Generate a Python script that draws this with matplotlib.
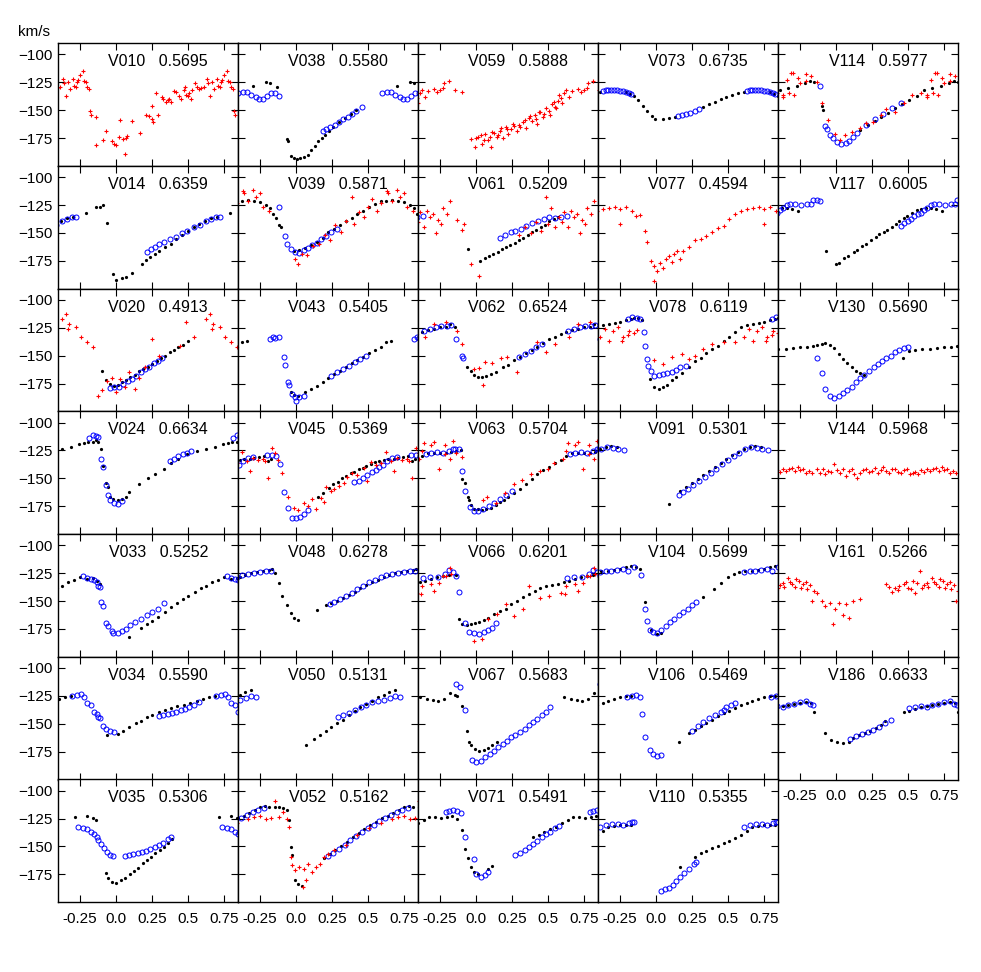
import numpy as np
import matplotlib.pyplot as plt

plt.rcParams["font.family"] = ["Liberation Sans", "DejaVu Sans"]

# phase (0..1) / velocity pairs; plotted at phase and phase-1
V010_red = [0.00,-181, 0.02,-174, 0.03,-159, 0.05,-176, 0.06,-189, 0.07,-175, 0.08,-173, 0.11,-160,
            0.17,-170, 0.21,-154, 0.23,-155, 0.25,-158, 0.25,-146, 0.26,-161, 0.28,-135, 0.29,-154,
            0.32,-138, 0.33,-140, 0.35,-143, 0.36,-141, 0.37,-140, 0.38,-143, 0.40,-133, 0.42,-134,
            0.44,-137, 0.45,-140, 0.47,-132, 0.48,-129, 0.49,-136, 0.50,-137, 0.51,-135, 0.52,-140,
            0.53,-132, 0.55,-126, 0.56,-129, 0.58,-131, 0.59,-130, 0.61,-129, 0.63,-122, 0.64,-126,
            0.65,-137, 0.67,-125, 0.68,-131, 0.70,-122, 0.71,-128, 0.72,-129, 0.73,-125, 0.74,-123,
            0.75,-118, 0.77,-115, 0.78,-124, 0.79,-125, 0.80,-129, 0.81,-131, 0.82,-151, 0.83,-154,
            0.86,-156, 0.865,-181, 0.91,-177, 0.93,-169, 0.97,-178, 0.99,-180]

V038_black = [0.70,-128, 0.79,-125, 0.82,-126, 0.87,-129, 0.94,-176, 0.945,-178, 0.965,-191, 0.985,-193,
              0.005,-194, 0.025,-193, 0.055,-192, 0.085,-190, 0.105,-186, 0.13,-182, 0.155,-178, 0.18,-175,
              0.20,-172, 0.23,-169, 0.26,-165, 0.30,-161, 0.34,-157, 0.38,-153, 0.42,-150]
V038_blue = [0.19,-169, 0.21,-167, 0.24,-165, 0.27,-163, 0.30,-161, 0.33,-158, 0.36,-156, 0.39,-153,
             0.42,-151, 0.46,-147, 0.60,-134.5, 0.63,-133.5, 0.66,-134, 0.69,-136, 0.72,-138, 0.745,-140,
             0.77,-139.5, 0.80,-137.5, 0.83,-135, 0.855,-134.3, 0.883,-137.3]

V059_red = [0.855,-132, 0.903,-133.4, 0.964,-176, 0.992,-183, 0.016,-174, 0.044,-180, 0.065,-171, 0.085,-177,
            0.105,-183, 0.125,-170, 0.145,-174, 0.165,-169, 0.185,-175, 0.206,-165, 0.226,-171, 0.246,-167,
            0.266,-164, 0.286,-169, 0.306,-165, 0.327,-161, 0.347,-166, 0.367,-157, 0.387,-160, 0.407,-154,
            0.427,-162, 0.448,-152, 0.468,-156, 0.488,-148, 0.508,-151, 0.528,-144, 0.548,-147, 0.569,-142,
            0.589,-139, 0.609,-135, 0.629,-132, 0.669,-132.5, 0.71,-131, 0.75,-132, 0.78,-126, 0.81,-123.5,
            0.004,-175.3, 0.032,-172.3, 0.056,-176.8, 0.097,-173.8, 0.113,-169.3, 0.153,-172.3, 0.177,-166.3,
            0.218,-167.2, 0.258,-161.9, 0.298,-163.4, 0.339,-158.9, 0.379,-155.3, 0.419,-158.3, 0.435,-151.4,
            0.476,-153.5, 0.516,-154.4, 0.54,-142.4, 0.556,-148.4, 0.58,-136.4, 0.597,-143.3, 0.649,-137.9,
            0.73,-133.4, 0.77,-130.4]

V073_black = [0.79,-134, 0.82,-135.5, 0.85,-137, 0.875,-141, 0.91,-146, 0.94,-151, 0.97,-155, 0.995,-157.5,
              0.05,-158.3, 0.09,-157.4, 0.13,-156.5, 0.33,-147, 0.37,-144.5, 0.41,-142.4, 0.45,-140.3,
              0.49,-138.5, 0.53,-136.4, 0.57,-135, 0.61,-133.4]
V073_blue = [0.15,-155.3, 0.18,-154.4, 0.21,-153.5, 0.24,-152.3, 0.27,-150.5, 0.30,-149.3, 0.63,-132.8,
             0.65,-132.3, 0.67,-132, 0.69,-131.8, 0.71,-132, 0.73,-132.2, 0.75,-132.5, 0.77,-133, 0.79,-133.4,
             0.81,-134.2, 0.83,-135.5]

V114_black = [0.17,-167.8, 0.22,-163.4, 0.27,-159.5, 0.31,-156, 0.36,-152.3, 0.41,-148.4, 0.46,-144.5,
              0.51,-141, 0.56,-137.3, 0.61,-132, 0.67,-130, 0.73,-128.5, 0.786,-125.3, 0.819,-123.5,
              0.847,-124.4, 0.90,-146.3, 0.907,-150]
V114_blue = [0.887,-128.3, 0.927,-164.3, 0.94,-167.2, 0.956,-172.3, 0.98,-175.3, 0.008,-178.3, 0.036,-180.4,
             0.069,-179.8, 0.089,-177.4, 0.117,-173.8, 0.149,-170.2, 0.21,-163.4, 0.27,-158.3, 0.33,-153.5,
             0.39,-148.4, 0.45,-143.9]
V114_red = [0.633,-136, 0.657,-122.9, 0.673,-134.5, 0.70,-116.3, 0.74,-121.4, 0.79,-117.5, 0.83,-119.3,
            0.867,-124.4, 0.90,-143.9, 0.948,-158.9, 0.996,-171.4, 0.028,-176.8, 0.06,-172.3, 0.109,-169.3,
            0.165,-166.3, 0.206,-161.3, 0.26,-160.4, 0.31,-154.4, 0.35,-149.3, 0.41,-151.4, 0.47,-143.3,
            0.53,-136.4, 0.59,-134.3, 0.63,-137.9, 0.69,-116.3, 0.71,-136.4, 0.75,-125.9, 0.79,-123.5]

V014_black = [0.79,-131.7, 0.86,-126.6, 0.89,-126.6, 0.907,-125.4, 0.94,-140.7, 0.98,-186.5, 0.00,-192.5,
              0.04,-190.7, 0.07,-189.5, 0.11,-185.6, 0.18,-177.5, 0.21,-174.5, 0.24,-171.5, 0.27,-168.5,
              0.30,-166, 0.34,-163, 0.38,-159.5, 0.42,-155.6, 0.46,-151.7, 0.50,-148, 0.54,-145, 0.58,-142,
              0.62,-139, 0.66,-136.7, 0.70,-135.5]
V014_blue = [0.214,-166.8, 0.242,-164.7, 0.27,-162.6, 0.302,-160.2, 0.335,-157.8, 0.375,-155.6, 0.415,-153.5,
             0.456,-150.5, 0.496,-148.1, 0.544,-145.1, 0.585,-142.7, 0.625,-139.7, 0.657,-137.6, 0.698,-136.1,
             0.726,-136.1]

V039_black = [0.843,-133.2, 0.863,-136.7, 0.883,-142.7, 0.895,-144.5, 0.984,-166.2, 0.024,-165.6, 0.065,-163.1,
              0.105,-160.8, 0.145,-157.8, 0.185,-154.2, 0.226,-149.6, 0.266,-146.6, 0.306,-142.7, 0.347,-139.1,
              0.387,-136.2, 0.427,-133.2, 0.468,-130.2, 0.508,-126.6, 0.548,-124.2, 0.589,-121.8, 0.629,-121.2,
              0.669,-120.6, 0.71,-121.2, 0.75,-122.7, 0.79,-124.8, 0.82,-128]
V039_blue = [0.883,-126.6, 0.923,-152.7, 0.935,-159.5, 0.964,-164.7, 0.992,-166.8, 0.024,-167.7, 0.056,-165.6,
             0.085,-163.1, 0.113,-160.8, 0.145,-158.7, 0.177,-155.6, 0.206,-152.7, 0.246,-149.6, 0.286,-146.6]
V039_red = [0.64,-113.8, 0.70,-111.6, 0.75,-114.6, 0.992,-173.6, 0.016,-178, 0.044,-169, 0.08,-170, 0.12,-162,
            0.16,-160, 0.2,-152, 0.24,-156, 0.27,-143, 0.31,-149, 0.35,-139, 0.387,-118.2, 0.40,-142, 0.44,-131,
            0.47,-136, 0.50,-127, 0.53,-119.7, 0.56,-130, 0.589,-123.5, 0.63,-112.2, 0.67,-121.7, 0.72,-118,
            0.77,-127, 0.81,-130]

V061_black = [0.944,-164.7, 0.03,-175, 0.06,-172.7, 0.09,-170.6, 0.12,-168.5, 0.15,-166.7, 0.18,-164.7,
              0.21,-163, 0.24,-160.8, 0.27,-158.7, 0.30,-156.6, 0.33,-154.2, 0.36,-151.7, 0.39,-149.6,
              0.42,-147.5, 0.45,-145, 0.48,-142.7, 0.51,-139.7, 0.54,-137.6, 0.57,-135.5]
V061_blue = [0.165,-154.2, 0.205,-151.7, 0.245,-149.6, 0.27,-148.1, 0.31,-146.6, 0.35,-143.6, 0.39,-141.5,
             0.43,-139.1, 0.47,-137.6, 0.51,-136.1, 0.55,-136.7, 0.59,-135.5, 0.63,-134.6]
V061_red = [0.613,-131.6, 0.66,-130.7, 0.70,-132.8, 0.72,-150.2, 0.734,-138.2, 0.774,-127.7, 0.823,-121.7,
            0.87,-138, 0.90,-147, 0.92,-142, 0.964,-177.5, 0.024,-188.8, 0.30,-152, 0.34,-145, 0.38,-150,
            0.42,-140, 0.45,-148, 0.488,-117.7, 0.50,-142, 0.52,-128, 0.55,-145, 0.58,-136, 0.60,-140,
            0.64,-145, 0.68,-136, 0.76,-142, 0.80,-133]

V077_red = [0.859,-134.6, 0.887,-133.7, 0.927,-148, 0.94,-158.5, 0.968,-175, 0.988,-179.5, 0.988,-193.5,
            0.008,-184, 0.028,-177.4, 0.048,-181, 0.069,-173.5, 0.089,-170.6, 0.109,-176.5, 0.129,-169,
            0.149,-166, 0.169,-173.5, 0.19,-166, 0.23,-162.4, 0.27,-156.4, 0.31,-155.5, 0.35,-152.5,
            0.39,-149.5, 0.43,-145.6, 0.47,-143.5, 0.51,-137.5, 0.552,-133, 0.593,-130, 0.633,-128.5,
            0.673,-127.6, 0.714,-127, 0.754,-128.5, 0.794,-126.4, 0.835,-130, 0.754,-142]

V117_black = [0.929,-165.8, 0.999,-178.3, 0.021,-176.9, 0.056,-172.4, 0.081,-170.9, 0.126,-167.3, 0.149,-164.9,
              0.183,-161.9, 0.207,-159.5, 0.242,-156.5, 0.276,-153.5, 0.299,-151.4, 0.334,-149.3, 0.357,-147.5,
              0.392,-144.5, 0.415,-142.4, 0.438,-139.4, 0.473,-136.5, 0.496,-134.4, 0.531,-132, 0.565,-129.6,
              0.589,-128.4, 0.624,-127.5, 0.658,-127.5, 0.693,-128.4, 0.739,-130.5]
V117_blue = [0.452,-143.9, 0.475,-141.5, 0.498,-139.4, 0.521,-137.3, 0.544,-134.9, 0.567,-133.4, 0.59,-131.9,
             0.613,-129.5, 0.636,-127.4, 0.66,-125.4, 0.683,-124.5, 0.718,-124.5, 0.759,-125.4, 0.798,-124.5,
             0.828,-123.9, 0.844,-120.9, 0.868,-120.9, 0.891,-121.5]

V020_black = [0.90,-163.5, 0.931,-171.9, 0.96,-175.5, 0.988,-177, 0.012,-176.1, 0.04,-174, 0.069,-171.9,
              0.1,-169.5, 0.133,-167.1, 0.16,-164.1, 0.19,-162, 0.22,-159.9, 0.254,-157.5, 0.282,-154.5,
              0.31,-152.1, 0.343,-150, 0.375,-147, 0.403,-144.9, 0.431,-142.5, 0.464,-140.1, 0.504,-137.1]
V020_blue = [0.96,-179, 0.988,-178.4, 0.02,-177.8, 0.052,-175.4, 0.081,-173, 0.109,-170.9, 0.141,-167.9,
             0.173,-164.9, 0.202,-161.9, 0.23,-159.9, 0.262,-156.9, 0.294,-154.5, 0.323,-152.1]
V020_red = [0.625,-117, 0.65,-113, 0.677,-122, 0.72,-124.6, 0.76,-133.6, 0.80,-138, 0.84,-142.6, 0.879,-186,
            0.90,-181, 0.935,-172.6, 0.97,-170, 0.0,-183, 0.03,-171, 0.06,-178, 0.09,-165, 0.13,-180, 0.16,-170,
            0.2,-160, 0.254,-135, 0.30,-150, 0.444,-141, 0.484,-120, 0.544,-133.6, 0.665,-126]

V043_black = [0.964,-183, 0.984,-185, 0.016,-186, 0.065,-183, 0.105,-180, 0.145,-177, 0.185,-174, 0.226,-170,
              0.266,-166.5, 0.306,-163.5, 0.347,-160.5, 0.387,-157, 0.427,-154, 0.468,-151, 0.508,-148,
              0.548,-145, 0.589,-142, 0.629,-138, 0.661,-136.5]
V043_blue = [0.823,-135, 0.84,-133.5, 0.855,-134, 0.883,-133.5, 0.915,-151.5, 0.923,-158, 0.944,-174, 0.952,-176,
             0.976,-184, 0.992,-187.5, 0.004,-190.5, 0.024,-187, 0.056,-186, 0.246,-168, 0.286,-165, 0.327,-162,
             0.367,-159, 0.407,-156, 0.448,-153, 0.49,-150]

V062_black = [0.75,-124.6, 0.79,-124, 0.823,-121.6, 0.855,-124.6, 0.935,-160.6, 0.964,-163.6, 0.984,-167.2,
              0.016,-169, 0.044,-169, 0.073,-168.1, 0.105,-166.6, 0.137,-165.1, 0.185,-160.6, 0.226,-158.2,
              0.266,-154, 0.306,-151, 0.347,-148, 0.387,-145, 0.427,-142.6, 0.468,-139, 0.508,-135.1,
              0.548,-133.6, 0.589,-130.6, 0.629,-129.1, 0.669,-127, 0.71,-126.1]
V062_blue = [0.80,-123.1, 0.83,-122.2, 0.863,-135.1, 0.903,-150.1, 0.911,-152.2, 0.30,-151.6, 0.34,-148.6,
             0.38,-145.6, 0.42,-142.6, 0.46,-139.6, 0.64,-127.6, 0.68,-126.1, 0.72,-124.6, 0.76,-123.1]
V062_red = [0.87,-128, 0.90,-140, 0.984,-162.4, 0.024,-161.5, 0.052,-175.9, 0.065,-155.5, 0.113,-157, 0.177,-152.5,
            0.218,-151, 0.286,-164.5, 0.427,-138.1, 0.488,-147.1, 0.548,-139.6, 0.649,-133.6, 0.71,-121.6,
            0.79,-120.1]

V078_black = [0.633,-122.1, 0.673,-121.5, 0.714,-120.9, 0.754,-120, 0.794,-118.5, 0.827,-117, 0.847,-116.5,
              0.875,-116.5, 0.90,-118, 0.956,-171, 0.988,-178.5, 0.02,-180, 0.048,-177.9, 0.077,-176.1,
              0.109,-171.9, 0.141,-168.9, 0.181,-165.9, 0.23,-160.5, 0.27,-155.1, 0.31,-152.1, 0.35,-147.9,
              0.39,-144, 0.43,-141, 0.47,-137.1, 0.51,-132.9, 0.552,-129, 0.593,-124.5]
V078_blue = [0.806,-117, 0.835,-115.5, 0.867,-116, 0.887,-117, 0.915,-129, 0.927,-141, 0.94,-153, 0.948,-159,
             0.968,-163.5, 0.988,-168, 0.02,-167.1, 0.048,-166.5, 0.077,-165.9, 0.109,-165, 0.141,-162.9,
             0.169,-160.5, 0.21,-159]
V078_red = [0.645,-126, 0.705,-128, 0.766,-137.3, 0.806,-131.4, 0.847,-129.3, 0.867,-127, 0.99,-154, 0.048,-157.6,
            0.109,-151, 0.181,-148.6, 0.23,-153.1, 0.27,-150.1, 0.33,-144.1, 0.39,-139.6, 0.47,-138.1,
            0.552,-138.1, 0.613,-133.6, 0.673,-136.6, 0.734,-124, 0.774,-133.6, 0.815,-127.6]

V130_black = [0.867,-140.1, 0.90,-139.5, 0.927,-138.9, 0.956,-140.1, 0.988,-143.1, 0.02,-148.5, 0.048,-153,
              0.077,-156.9, 0.109,-160.5, 0.141,-164.1, 0.169,-165.9, 0.198,-167.1, 0.464,-152.1, 0.51,-146,
              0.55,-145, 0.60,-144, 0.65,-144, 0.70,-143, 0.75,-142.5, 0.80,-142, 0.84,-141.5]
V130_blue = [0.867,-152.1, 0.90,-165.9, 0.927,-180, 0.956,-186, 0.988,-188.1, 0.02,-186, 0.048,-183.9,
             0.077,-180.9, 0.109,-177.9, 0.141,-174, 0.169,-170.1, 0.198,-167.1, 0.23,-164.1, 0.262,-160.5,
             0.29,-157.5, 0.319,-155.1, 0.351,-152.1, 0.383,-150, 0.411,-147, 0.44,-144.9, 0.472,-143.1,
             0.504,-141.9]

V024_black = [0.625,-123.4, 0.685,-121.6, 0.746,-119.5, 0.778,-118, 0.806,-117.5, 0.839,-117.5, 0.859,-115.7,
              0.879,-117.5, 0.899,-123.4, 0.907,-139, 0.931,-154.6, 0.948,-157.6, 0.96,-166.6, 0.98,-168.4,
              0.012,-169, 0.04,-168.4, 0.069,-166.6, 0.093,-162.4, 0.161,-155.5, 0.222,-149.5, 0.27,-146.5,
              0.335,-141.4, 0.383,-136.6, 0.431,-132.4, 0.496,-128.5, 0.565,-125.5]
V024_blue = [0.81,-113.6, 0.839,-111.5, 0.859,-112.1, 0.879,-112.7, 0.899,-132.4, 0.907,-139.6, 0.931,-156.4,
             0.948,-164.5, 0.96,-169, 0.988,-172, 0.012,-172.6, 0.04,-170.5, 0.375,-134.5, 0.403,-132.4,
             0.431,-130, 0.464,-128.5, 0.496,-127, 0.524,-125.5]

V045_black = [0.151,-166.8, 0.19,-163, 0.227,-158.9, 0.26,-155.5, 0.29,-152.9, 0.32,-150, 0.348,-147.8,
              0.38,-145.5, 0.406,-143.9, 0.435,-142, 0.463,-140.3, 0.49,-138.8, 0.522,-137.3, 0.55,-135.8,
              0.579,-134.3, 0.61,-133.5, 0.643,-133, 0.678,-132.4, 0.712,-131.5, 0.746,-130.9, 0.776,-130,
              0.808,-134.6, 0.83,-133]
V045_blue = [0.801,-128.9, 0.831,-128.9, 0.859,-129.9, 0.887,-136.9, 0.917,-162.4, 0.947,-176.4, 0.971,-185.4,
             0.999,-186, 0.026,-184.8, 0.056,-181.8, 0.086,-178.8, 0.404,-153.3, 0.439,-152.1, 0.467,-149.7,
             0.497,-146.7, 0.528,-144.3, 0.555,-142.2, 0.578,-140.1, 0.606,-137.7, 0.636,-134.7, 0.667,-131.7,
             0.70,-130.5]
V045_red = [0.878,-133.9, 0.901,-145, 0.947,-166.8, 0.987,-176.4, 0.017,-178.8, 0.056,-171.9, 0.086,-174.9,
            0.114,-168.9, 0.142,-177.9, 0.172,-168, 0.195,-171, 0.211,-157.9, 0.242,-161.5, 0.265,-160,
            0.299,-157, 0.334,-154, 0.357,-148.9, 0.392,-145, 0.426,-147.1, 0.473,-140.5, 0.496,-152.5,
            0.519,-135.1, 0.554,-138.1, 0.589,-136, 0.624,-126.1, 0.658,-134.5, 0.681,-143.5, 0.704,-131.5,
            0.739,-133.9, 0.774,-133, 0.785,-134.5, 0.808,-149.5, 0.832,-122.6, 0.855,-127.1]

V063_black = [0.83,-126.4, 0.863,-125.8, 0.895,-124.3, 0.903,-151, 0.923,-154.6, 0.944,-166.6, 0.952,-169,
              0.964,-173.5, 0.984,-177.3, 0.016,-177.9, 0.044,-178.5, 0.073,-177.9, 0.105,-176.4, 0.137,-173.5,
              0.165,-171.4, 0.194,-169, 0.226,-166.6, 0.266,-163.6, 0.306,-159.4, 0.347,-155.5, 0.387,-151,
              0.427,-146.5, 0.468,-142.6, 0.508,-139.6, 0.548,-136.6, 0.589,-133.6, 0.629,-130, 0.669,-127.6,
              0.71,-127, 0.75,-127, 0.79,-127]
V063_blue = [0.855,-124, 0.883,-123.5, 0.903,-143.5, 0.927,-161.5, 0.956,-175.6, 0.984,-179.5, 0.016,-179.5,
             0.048,-177.9, 0.089,-175, 0.129,-172, 0.169,-168.4, 0.21,-164.5, 0.25,-161.5, 0.65,-128.5,
             0.69,-127, 0.73,-126.4, 0.77,-127.6, 0.81,-125.5, 0.84,-124]
V063_red = [0.637,-118.3, 0.71,-117.4, 0.782,-119.8, 0.843,-116.8, 0.863,-127.3, 0.903,-131.2, 0.052,-169.6,
            0.08,-166.6, 0.141,-172, 0.202,-163, 0.262,-155.5, 0.323,-151.6, 0.383,-146.5, 0.444,-143.5,
            0.504,-141.4, 0.544,-136, 0.605,-133, 0.625,-125.5, 0.685,-120.4, 0.746,-142, 0.786,-128.5, 0.823,-133]

V091_black = [0.089,-172.6, 0.169,-161.5, 0.21,-157.6, 0.25,-154.6, 0.29,-151, 0.33,-147.4, 0.37,-143.5,
              0.41,-139.6, 0.45,-136, 0.49,-132.4, 0.53,-129.4, 0.57,-126.4, 0.61,-124, 0.65,-121.6, 0.69,-121,
              0.73,-121.6]
V091_blue = [0.157,-164.5, 0.19,-162.4, 0.22,-160, 0.26,-156.4, 0.30,-152.5, 0.34,-148.6, 0.38,-145, 0.42,-141.4,
             0.46,-137.5, 0.50,-133.6, 0.54,-130, 0.58,-127, 0.62,-124, 0.66,-121.6, 0.70,-122.5, 0.74,-123.4,
             0.78,-124.6]

V144_red = [0.867,-141.4, 0.887,-145.6, 0.907,-142, 0.927,-146.5, 0.948,-143.5, 0.968,-144.4, 0.988,-137.5,
            0.008,-142.6, 0.028,-145.6, 0.048,-141.4, 0.069,-148, 0.089,-143.8, 0.109,-141.4, 0.129,-146.5,
            0.149,-149.5, 0.169,-145, 0.19,-142.6, 0.21,-141.4, 0.23,-144.4, 0.25,-143.2, 0.27,-140.5, 0.29,-145,
            0.31,-142.6, 0.33,-139.6, 0.35,-143.5, 0.371,-145, 0.391,-142, 0.411,-141.4, 0.431,-144.4,
            0.452,-145.6, 0.472,-142.6, 0.492,-141.4, 0.512,-146.5, 0.532,-145, 0.552,-144.4, 0.573,-146.5,
            0.593,-142.6, 0.613,-144.4, 0.633,-141.4, 0.653,-143.5, 0.673,-142, 0.694,-140.5, 0.714,-143.5,
            0.734,-139.6, 0.754,-142.6, 0.774,-141.4, 0.794,-145, 0.815,-143.5, 0.835,-145.6]

V033_black = [0.867,-131.9, 0.891,-134.9, 0.093,-182, 0.173,-173.8, 0.214,-170.8, 0.254,-167.8, 0.294,-163.9,
              0.343,-159.7, 0.383,-155.8, 0.423,-151.9, 0.464,-148.3, 0.504,-145.3, 0.548,-141.7, 0.589,-138.7,
              0.629,-136.3, 0.669,-133.3, 0.71,-130.9, 0.75,-128.8, 0.80,-130.4, 0.84,-129.5]
V033_blue = [0.77,-128, 0.798,-129.8, 0.827,-130.4, 0.851,-131, 0.867,-132.8, 0.879,-136.4, 0.891,-137,
             0.899,-151.3, 0.907,-154.9, 0.931,-169.3, 0.948,-172.3, 0.972,-176.8, 0.98,-178.9, 0.012,-178.3,
             0.04,-176.8, 0.069,-174.7, 0.101,-171.7, 0.133,-168.7, 0.173,-165.7, 0.214,-162.7, 0.254,-159.7,
             0.294,-156.7, 0.335,-151.9]

V048_black = [0.206,-153.7, 0.246,-151.9, 0.286,-149.8, 0.327,-147.7, 0.367,-144.7, 0.407,-141.7, 0.448,-138.7,
              0.488,-135.7, 0.528,-133.3, 0.569,-130.9, 0.609,-128.8, 0.649,-126.7, 0.69,-124.9, 0.73,-123.7,
              0.77,-122.8, 0.81,-121.9, 0.831,-121.6, 0.855,-125.2, 0.883,-133.6, 0.903,-145.6, 0.935,-154,
              0.964,-160.6, 0.984,-165.1, 0.016,-167.2, 0.145,-158]
V048_blue = [0.234,-152.8, 0.266,-150.7, 0.306,-148.3, 0.347,-145.9, 0.387,-142.9, 0.427,-139.3, 0.468,-136.3,
             0.508,-133.3, 0.548,-130.9, 0.589,-128.8, 0.629,-126.7, 0.669,-125.8, 0.71,-124.9, 0.75,-124.3,
             0.79,-123.5, 0.83,-123]

V066_black = [0.859,-127, 0.883,-165.7, 0.903,-170.8, 0.935,-171.7, 0.964,-170.8, 0.992,-169.9, 0.024,-168.7,
              0.056,-166.9, 0.085,-164.8, 0.125,-161.8, 0.165,-158.8, 0.206,-156.7, 0.246,-152.8, 0.286,-149.8,
              0.327,-146.8, 0.367,-143.8, 0.407,-140.8, 0.448,-138.7, 0.488,-136.9, 0.528,-135.7, 0.569,-134.8,
              0.609,-133.3, 0.649,-131.8, 0.69,-130.3, 0.73,-128.8, 0.77,-127.9, 0.81,-126.7]
V066_blue = [0.63,-129.8, 0.68,-128.9, 0.734,-128.9, 0.782,-125.9, 0.815,-122.4, 0.843,-123.6, 0.863,-127.5,
             0.883,-141.6, 0.923,-169.3, 0.952,-177.7, 0.984,-178.9, 0.024,-179.8, 0.056,-177.7, 0.085,-175.9,
             0.113,-173.8, 0.137,-169.9]
V066_red = [0.621,-143.9, 0.71,-140.9, 0.774,-127.4, 0.823,-120.8, 0.984,-185.8, 0.044,-184.3, 0.085,-166.3,
            0.145,-161.8, 0.206,-152.8, 0.266,-163.3, 0.327,-157.3, 0.367,-136.4, 0.448,-146.9, 0.508,-145.4,
            0.589,-142.4, 0.629,-136.4, 0.69,-134.9, 0.742,-133.4, 0.79,-128, 0.83,-125.9]

V104_black = [0.859,-119.9, 0.887,-121.4, 0.927,-151.3, 0.968,-175.9, 0.008,-179.8, 0.036,-178.9, 0.33,-146,
              0.40,-138.8, 0.45,-133.4, 0.50,-128.9, 0.54,-125.9, 0.58,-123.8, 0.62,-122.9, 0.67,-122.9,
              0.71,-122, 0.75,-121.4, 0.79,-119.9, 0.83,-118.4]
V104_blue = [0.61,-124, 0.65,-123.5, 0.69,-123, 0.73,-122.5, 0.77,-121.5, 0.806,-122.9, 0.847,-119.9, 0.899,-126.9,
             0.927,-156.7, 0.94,-167.8, 0.956,-175.9, 0.98,-177.7, 0.008,-178.3, 0.036,-175.9, 0.069,-172.3,
             0.101,-168.7, 0.129,-165.7, 0.157,-162.7, 0.19,-159.7, 0.222,-156.7, 0.25,-153.7, 0.278,-151.3]

V161_red = [0.847,-140.9, 0.867,-142.4, 0.9,-149.9, 0.927,-154.4, 0.956,-151.4, 0.98,-170.8, 0.996,-157.4,
            0.02,-151.4, 0.048,-162.8, 0.069,-152.9, 0.089,-164.8, 0.117,-149.9, 0.169,-148.4, 0.35,-134.9,
            0.37,-137, 0.39,-141.8, 0.41,-137.9, 0.43,-140, 0.44,-136.4, 0.47,-134.9, 0.49,-133, 0.504,-137.9,
            0.52,-139, 0.532,-131.9, 0.552,-142.4, 0.56,-134, 0.585,-122.9, 0.60,-138, 0.613,-135.8, 0.633,-133.4,
            0.64,-137, 0.665,-129.8, 0.68,-133, 0.694,-134.9, 0.714,-137, 0.72,-130, 0.746,-131.9, 0.76,-138,
            0.774,-134.9, 0.79,-133, 0.802,-138.8, 0.82,-136, 0.835,-149.9]

V034_black = [0.94,-160.4, 0.012,-159.2, 0.052,-156.2, 0.093,-153.2, 0.141,-149.3, 0.173,-147.8, 0.214,-144.2,
              0.254,-141.8, 0.302,-139.4, 0.343,-137.3, 0.383,-135.8, 0.423,-134.3, 0.472,-132.8, 0.512,-131.3,
              0.565,-129.2, 0.605,-127.4, 0.645,-126.2, 0.685,-125.3]
V034_blue = [0.698,-125.3, 0.73,-123.8, 0.758,-123.2, 0.778,-126.2, 0.798,-131.3, 0.827,-133.4, 0.851,-139.4,
             0.867,-141.2, 0.879,-144.2, 0.891,-144.8, 0.907,-152.3, 0.931,-154.4, 0.96,-156.2, 0.988,-157.4,
             0.30,-143.3, 0.33,-142.4, 0.36,-141.5, 0.39,-140.3, 0.42,-139.4, 0.45,-137.9, 0.48,-136.4,
             0.51,-134.9, 0.54,-133.4, 0.58,-130.4]

V050_black = [0.073,-168.8, 0.125,-163.4, 0.165,-159.8, 0.206,-156.8, 0.246,-153.2, 0.286,-149.3, 0.327,-146.3,
              0.367,-142.4, 0.407,-138.8, 0.448,-135.2, 0.488,-132.2, 0.528,-129.2, 0.569,-126.2, 0.609,-123.8,
              0.649,-121.4, 0.69,-120.2]
V050_blue = [0.29,-144.2, 0.33,-142.4, 0.37,-140.3, 0.41,-137.3, 0.45,-135.2, 0.49,-132.8, 0.53,-130.4,
             0.57,-129.2, 0.61,-128.3, 0.65,-126.8, 0.69,-125.3, 0.72,-126.2]

V067_black = [0.61,-126.2, 0.66,-127.4, 0.70,-128.3, 0.74,-129.2, 0.78,-127.4, 0.823,-122.3, 0.855,-124.4,
              0.871,-124.7, 0.903,-134.3, 0.935,-156.2, 0.952,-166.4, 0.964,-168.8, 0.992,-172.4, 0.024,-174.8,
              0.056,-173.3, 0.085,-171.8, 0.113,-168.8, 0.145,-166.4]
V067_blue = [0.863,-114.3, 0.887,-117.3, 0.923,-137.3, 0.976,-182.2, 0.004,-184.4, 0.032,-183.2, 0.065,-180.2,
             0.097,-177.2, 0.125,-174.2, 0.153,-171.2, 0.186,-168.2, 0.218,-165.2, 0.246,-162.2, 0.274,-159.8,
             0.306,-157.4, 0.339,-154.4, 0.367,-151.4, 0.395,-148.4, 0.427,-145.4, 0.46,-142.4, 0.488,-139.4,
             0.516,-135.2]

V106_black = [0.157,-166.4, 0.23,-158.3, 0.27,-155.3, 0.31,-152.3, 0.35,-149.3, 0.39,-146.3, 0.43,-143.3,
              0.47,-140.3, 0.51,-138.2, 0.55,-135.8, 0.59,-133.4, 0.63,-131.3, 0.67,-129.2, 0.71,-127.4,
              0.75,-126.2, 0.79,-125.3, 0.83,-125.3]
V106_blue = [0.80,-126.2, 0.835,-125.3, 0.863,-124.4, 0.887,-126.2, 0.90,-141.2, 0.927,-162.2, 0.956,-173.3,
             0.98,-177.2, 0.008,-179.3, 0.036,-178.4, 0.25,-156.2, 0.29,-152.3, 0.33,-148.4, 0.37,-144.8,
             0.41,-141.8, 0.45,-139.4, 0.47,-137.3, 0.49,-135.2, 0.52,-132.8, 0.55,-131.3]

V186_black = [0.847,-139.4, 0.927,-158.3, 0.968,-164.3, 0.008,-166.4, 0.048,-167.3, 0.089,-166.4, 0.12,-163,
              0.16,-160.5, 0.2,-158.5, 0.24,-156.5, 0.28,-154, 0.31,-151, 0.34,-148, 0.47,-139.4, 0.51,-138.2,
              0.55,-136.4, 0.59,-135.2, 0.63,-134.3, 0.67,-132.8, 0.71,-132.2, 0.75,-131.3, 0.79,-130.4,
              0.83,-131.3]
V186_blue = [0.1,-163.4, 0.14,-161.3, 0.18,-159.2, 0.22,-157.4, 0.26,-155.3, 0.30,-153.2, 0.34,-149.3,
             0.383,-146.3, 0.51,-135.8, 0.55,-135, 0.59,-134.3, 0.63,-135, 0.67,-133.4, 0.71,-132.2, 0.75,-130.5,
             0.79,-129.2, 0.82,-132, 0.84,-133.4]

V035_black = [0.718,-123.9, 0.798,-122.7, 0.839,-124.8, 0.859,-126.3, 0.931,-173.7, 0.948,-177.9, 0.972,-181.8,
              0.0,-182.7, 0.032,-180.3, 0.065,-177.9, 0.097,-174.9, 0.125,-171.9, 0.153,-168.9, 0.185,-165.3,
              0.218,-162.3, 0.246,-159.3, 0.274,-156.3, 0.306,-153.3, 0.335,-150.3, 0.363,-147.3, 0.391,-143.7]
V035_blue = [0.738,-132.9, 0.77,-133.8, 0.798,-134.7, 0.827,-136.8, 0.851,-138.9, 0.867,-141.3, 0.879,-144.3,
             0.899,-147.9, 0.919,-151.8, 0.94,-154.8, 0.96,-157.8, 0.98,-158.7, 0.06,-158.7, 0.09,-157.8,
             0.12,-156.9, 0.15,-155.7, 0.18,-154.8, 0.21,-153.9, 0.24,-152.7, 0.27,-150.9, 0.30,-148.8,
             0.33,-146.7, 0.36,-143.7, 0.383,-141.9]

V052_black = [0.855,-114.4, 0.883,-115, 0.911,-115.9, 0.935,-117.4, 0.952,-126.4, 0.964,-150.3, 0.976,-157.8,
              0.992,-180.2, 0.016,-183.8, 0.044,-185.6, 0.194,-160.8, 0.234,-156.9, 0.274,-153.3, 0.315,-149.7,
              0.355,-145.8, 0.395,-141.9, 0.435,-138.3, 0.476,-134.7, 0.516,-130.8, 0.556,-127.8, 0.597,-124.9,
              0.637,-122.8, 0.677,-120.4, 0.718,-117.4, 0.75,-115, 0.782,-113.8, 0.81,-115]
V052_blue = [0.226,-159, 0.258,-156, 0.298,-152.4, 0.339,-148.5, 0.379,-144.6, 0.419,-141, 0.46,-137.4, 0.5,-133.5,
             0.54,-130.5, 0.58,-127.5, 0.62,-124.5, 0.66,-121.5, 0.70,-119.4, 0.74,-117, 0.78,-115.5]
V052_red = [0.855,-109, 0.883,-123.4, 0.911,-118.9, 0.935,-125.8, 0.952,-132.4, 0.964,-159.4, 0.976,-166.9,
            0.992,-171.4, 0.024,-168.4, 0.05,-186, 0.056,-169.9, 0.07,-180, 0.085,-166, 0.113,-172.9, 0.137,-168.4,
            0.165,-165.4, 0.194,-159.4, 0.226,-157, 0.266,-153.4, 0.347,-148.9, 0.427,-139.9, 0.508,-133.9,
            0.589,-129.4, 0.669,-125.8, 0.71,-123.4, 0.75,-122.8, 0.79,-125.8, 0.83,-124.9]

V071_black = [0.871,-125.7, 0.903,-135.4, 0.923,-152.7, 0.944,-160.8, 0.964,-168.3, 0.984,-172.8, 0.016,-174.9,
              0.085,-169.8, 0.113,-167.6, 0.395,-141.9, 0.435,-139.8, 0.476,-136.8, 0.516,-134.7, 0.556,-132.3,
              0.597,-129.3, 0.637,-126.3, 0.677,-123.3, 0.718,-123.3, 0.758,-124.8, 0.798,-123.9, 0.831,-122.7]
V071_blue = [0.79,-118.9, 0.815,-118.5, 0.843,-117.5, 0.871,-118, 0.895,-119.8, 0.923,-141.3, 0.984,-161.7,
             0.004,-174.3, 0.032,-177.3, 0.065,-175.8, 0.085,-172.8, 0.274,-157.8, 0.306,-155.7, 0.339,-153.3,
             0.367,-150.9, 0.395,-147.9, 0.427,-144.9, 0.46,-141.9, 0.488,-138.9, 0.516,-136.8, 0.548,-133.8,
             0.58,-131.7]

V110_black = [0.169,-168.2, 0.27,-159.3, 0.31,-156.3, 0.35,-153.9, 0.39,-151.8, 0.43,-149.7, 0.47,-147.3,
              0.51,-144.9, 0.55,-142.8, 0.59,-139.8, 0.63,-135.9, 0.67,-132.9, 0.71,-131.7, 0.75,-130.8,
              0.79,-130.8, 0.83,-130.8]
V110_blue = [0.036,-189.8, 0.06,-188.6, 0.089,-187.7, 0.117,-184.7, 0.141,-180.8, 0.169,-177.2, 0.198,-174.2,
             0.23,-170.6, 0.262,-165.8, 0.278,-163.7, 0.613,-132.2, 0.653,-130.7, 0.694,-129.8, 0.734,-129.8,
             0.774,-130.7, 0.815,-129.2, 0.835,-127.7, 0.847,-127.8]

# grid of panels, row by row: (star, period, black dots, blue circles, red pluses)
grid = [
    [("V010", "0.5695", None, None, V010_red), ("V038", "0.5580", V038_black, V038_blue, None),
     ("V059", "0.5888", None, None, V059_red), ("V073", "0.6735", V073_black, V073_blue, None),
     ("V114", "0.5977", V114_black, V114_blue, V114_red)],
    [("V014", "0.6359", V014_black, V014_blue, None), ("V039", "0.5871", V039_black, V039_blue, V039_red),
     ("V061", "0.5209", V061_black, V061_blue, V061_red), ("V077", "0.4594", None, None, V077_red),
     ("V117", "0.6005", V117_black, V117_blue, None)],
    [("V020", "0.4913", V020_black, V020_blue, V020_red), ("V043", "0.5405", V043_black, V043_blue, None),
     ("V062", "0.6524", V062_black, V062_blue, V062_red), ("V078", "0.6119", V078_black, V078_blue, V078_red),
     ("V130", "0.5690", V130_black, V130_blue, None)],
    [("V024", "0.6634", V024_black, V024_blue, None), ("V045", "0.5369", V045_black, V045_blue, V045_red),
     ("V063", "0.5704", V063_black, V063_blue, V063_red), ("V091", "0.5301", V091_black, V091_blue, None),
     ("V144", "0.5968", None, None, V144_red)],
    [("V033", "0.5252", V033_black, V033_blue, None), ("V048", "0.6278", V048_black, V048_blue, None),
     ("V066", "0.6201", V066_black, V066_blue, V066_red), ("V104", "0.5699", V104_black, V104_blue, None),
     ("V161", "0.5266", None, None, V161_red)],
    [("V034", "0.5590", V034_black, V034_blue, None), ("V050", "0.5131", V050_black, V050_blue, None),
     ("V067", "0.5683", V067_black, V067_blue, None), ("V106", "0.5469", V106_black, V106_blue, None),
     ("V186", "0.6633", V186_black, V186_blue, None)],
    [("V035", "0.5306", V035_black, V035_blue, None), ("V052", "0.5162", V052_black, V052_blue, V052_red),
     ("V071", "0.5491", V071_black, V071_blue, None), ("V110", "0.5355", V110_black, V110_blue, None)],
]

xticks = [-0.25, 0.0, 0.25, 0.5, 0.75]
xticklabels = ["-0.25", "0.0", "0.25", "0.5", "0.75"]
yticks = [-100, -125, -150, -175]


def folded(data):
    a = np.array(data, dtype=float).reshape(-1, 2)
    return np.concatenate([a[:, 0], a[:, 0] - 1]), np.concatenate([a[:, 1], a[:, 1]])


W, H = 981, 972
x0, y0, pw, ph = 58.3, 43.3, 180.0, 122.7

fig = plt.figure(figsize=(W / 100, H / 100), dpi=100)
fig.text(18 / W, 1 - 32 / H, "km/s", fontsize=11, ha="left", va="center")

for r, row in enumerate(grid):
    for c, (name, period, black, blue, red) in enumerate(row):
        ax = fig.add_axes([(x0 + c * pw) / W, 1 - (y0 + (r + 1) * ph) / H, pw / W, ph / H])
        if black is not None:
            p, v = folded(black)
            ax.plot(p, v, ls="none", marker="o", ms=2.3, color="black", mew=0)
        if blue is not None:
            p, v = folded(blue)
            ax.plot(p, v, ls="none", marker="o", ms=3.6, mfc="none", color="#0000ff", mew=0.7)
        if red is not None:
            p, v = folded(red)
            ax.plot(p, v, ls="none", marker="+", ms=3.4, color="#ff0000", mew=0.8)
        ax.set_xlim(-0.4, 0.85)
        ax.set_ylim(-200, -90)
        ax.set_xticks(xticks)
        ax.set_yticks(yticks)
        ax.set_xticklabels(xticklabels)
        last = (r == len(grid) - 1) or (c == 4 and r == 5)
        ax.tick_params(direction="in", length=5, width=0.8, top=True, right=True,
                       labelleft=(c == 0), labelbottom=last, labelsize=11)
        ax.tick_params(axis="x", pad=7)
        ax.tick_params(axis="y", pad=4)
        for s in ax.spines.values():
            s.set_linewidth(1.0)
        ax.text(0.555, 0.85, f"{name}   {period}", transform=ax.transAxes,
                ha="center", va="center", fontsize=11.5)

fig.savefig("out.png", dpi=100)
